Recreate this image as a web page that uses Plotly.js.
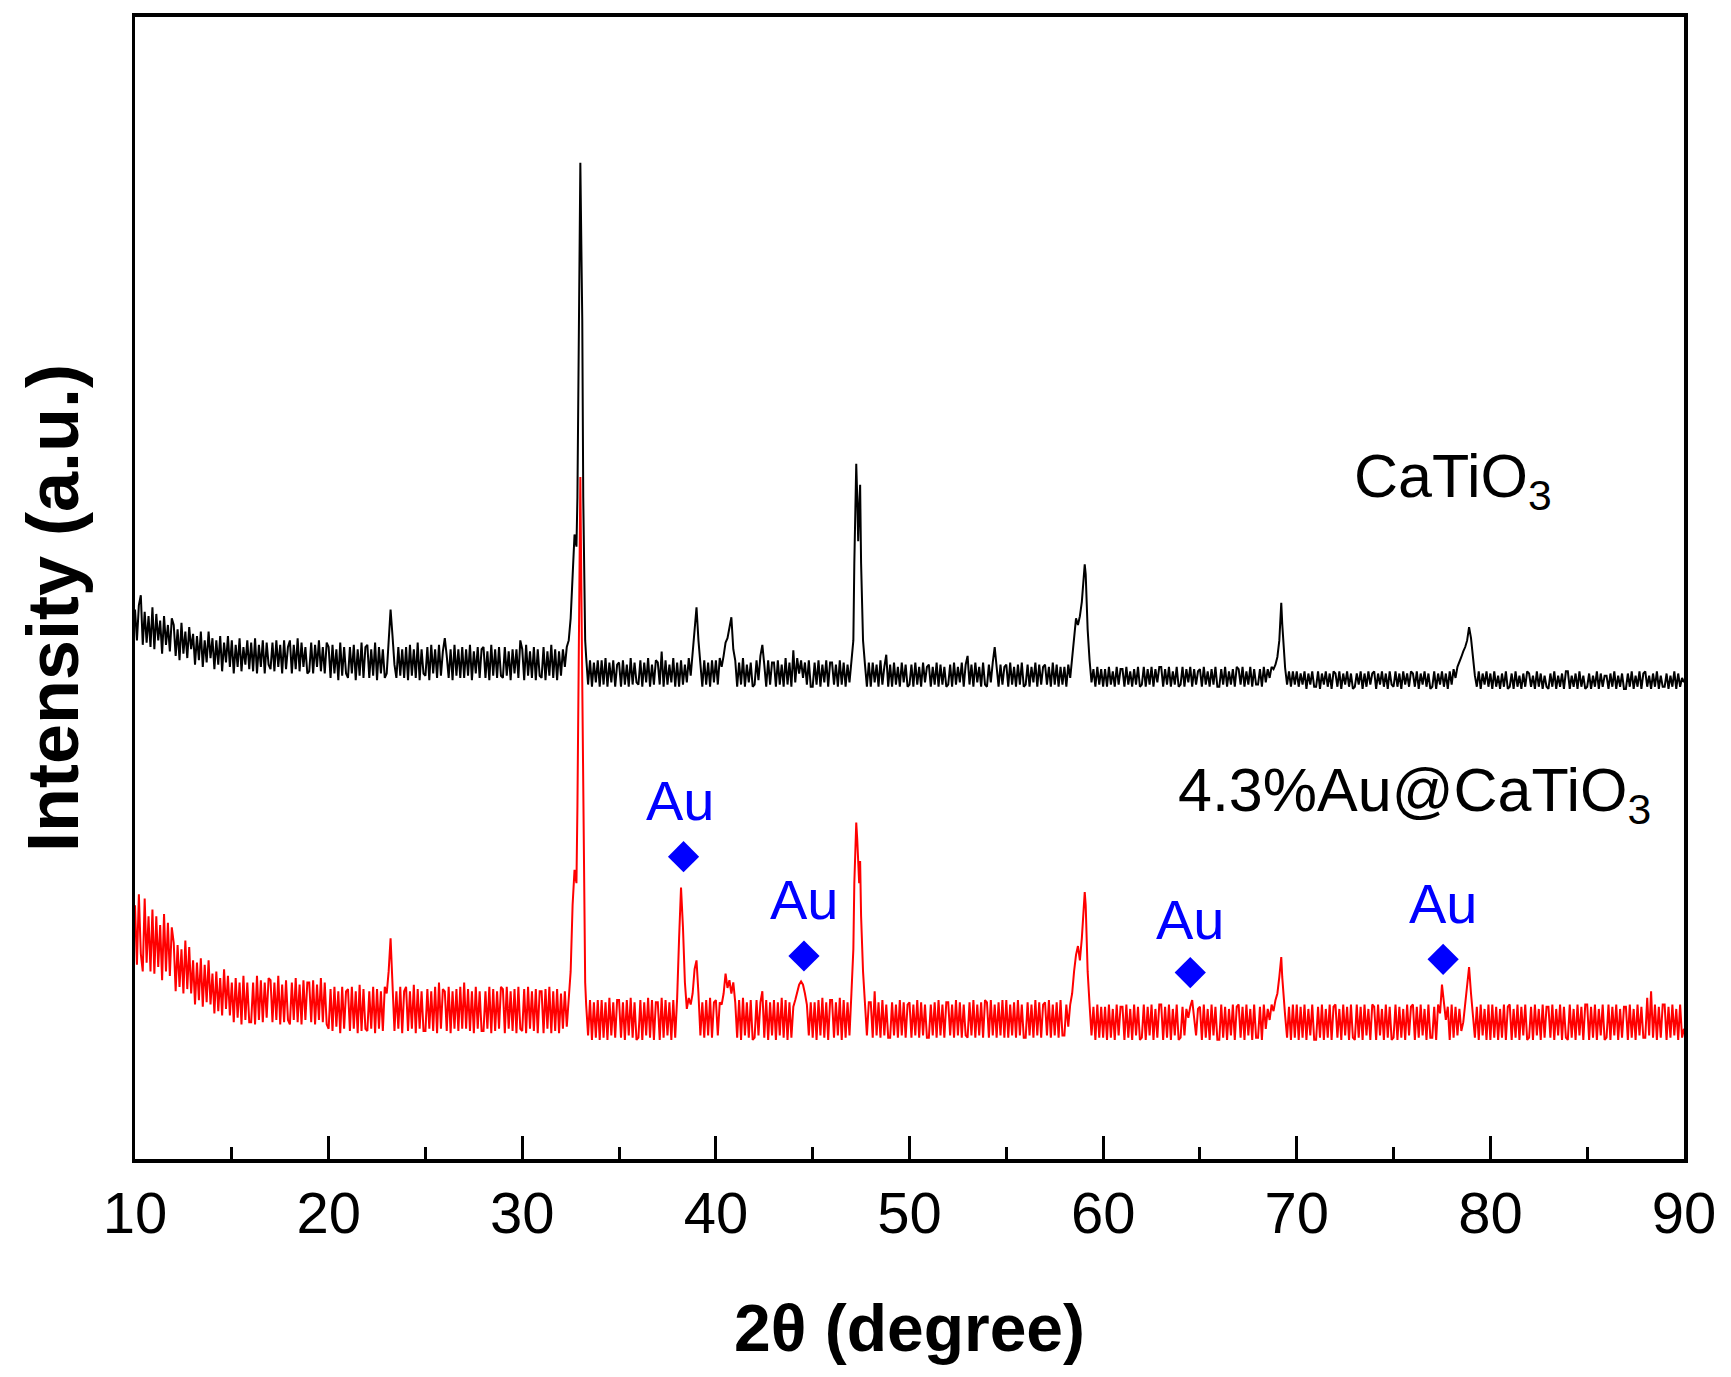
<!DOCTYPE html>
<html>
<head>
<meta charset="utf-8">
<script src="https://cdn.plot.ly/plotly-3.0.1.min.js"></script>
<style>
  html, body { margin: 0; padding: 0; background: #ffffff; }
  #chart { width: 1731px; height: 1377px; }
</style>
</head>
<body>
<div id="chart"></div>
<script>
// 2-theta positions (degree)
const twoTheta = [
  10,10.1,10.2,10.3,10.4,10.5,10.6,10.7,10.8,10.9,
  11,11.1,11.2,11.3,11.4,11.5,11.6,11.7,11.8,11.9,
  12,12.1,12.2,12.3,12.4,12.5,12.6,12.7,12.8,12.9,
  13,13.1,13.2,13.3,13.4,13.5,13.6,13.7,13.8,13.9,
  14,14.1,14.2,14.3,14.4,14.5,14.6,14.7,14.8,14.9,
  15,15.1,15.2,15.3,15.4,15.5,15.6,15.7,15.8,15.9,
  16,16.1,16.2,16.3,16.4,16.5,16.6,16.7,16.8,16.9,
  17,17.1,17.2,17.3,17.4,17.5,17.6,17.7,17.8,17.9,
  18,18.1,18.2,18.3,18.4,18.5,18.6,18.7,18.8,18.9,
  19,19.1,19.2,19.3,19.4,19.5,19.6,19.7,19.8,19.9,
  20,20.1,20.2,20.3,20.4,20.5,20.6,20.7,20.8,20.9,
  21,21.1,21.2,21.3,21.4,21.5,21.6,21.7,21.8,21.9,
  22,22.1,22.2,22.3,22.4,22.5,22.6,22.7,22.8,22.9,
  23,23.1,23.2,23.3,23.4,23.5,23.6,23.7,23.8,23.9,
  24,24.1,24.2,24.3,24.4,24.5,24.6,24.7,24.8,24.9,
  25,25.1,25.2,25.3,25.4,25.5,25.6,25.7,25.8,25.9,
  26,26.1,26.2,26.3,26.4,26.5,26.6,26.7,26.8,26.9,
  27,27.1,27.2,27.3,27.4,27.5,27.6,27.7,27.8,27.9,
  28,28.1,28.2,28.3,28.4,28.5,28.6,28.7,28.8,28.9,
  29,29.1,29.2,29.3,29.4,29.5,29.6,29.7,29.8,29.9,
  30,30.1,30.2,30.3,30.4,30.5,30.6,30.7,30.8,30.9,
  31,31.1,31.2,31.3,31.4,31.5,31.6,31.7,31.8,31.9,
  32,32.1,32.2,32.3,32.4,32.5,32.6,32.7,32.75,32.8,32.85,32.9,32.95,
  33,33.05,33.1,33.15,33.2,33.25,33.3,33.4,33.5,33.6,33.7,33.8,33.9,
  34,34.1,34.2,34.3,34.4,34.5,34.6,34.7,34.8,34.9,
  35,35.1,35.2,35.3,35.4,35.5,35.6,35.7,35.8,35.9,
  36,36.1,36.2,36.3,36.4,36.5,36.6,36.7,36.8,36.9,
  37,37.1,37.2,37.3,37.4,37.5,37.6,37.7,37.8,37.9,
  38,38.1,38.2,38.3,38.4,38.5,38.6,38.7,38.8,38.9,
  39,39.1,39.2,39.3,39.4,39.5,39.6,39.7,39.8,39.9,
  40,40.1,40.2,40.3,40.4,40.5,40.6,40.7,40.8,40.9,
  41,41.1,41.2,41.3,41.4,41.5,41.6,41.7,41.8,41.9,
  42,42.1,42.2,42.3,42.4,42.5,42.6,42.7,42.8,42.9,
  43,43.1,43.2,43.3,43.4,43.5,43.6,43.7,43.8,43.9,
  44,44.1,44.2,44.3,44.4,44.5,44.6,44.7,44.8,44.9,
  45,45.1,45.2,45.3,45.4,45.5,45.6,45.7,45.8,45.9,
  46,46.1,46.2,46.3,46.4,46.5,46.6,46.7,46.8,46.9,
  47,47.1,47.15,47.2,47.25,47.3,47.35,47.4,47.45,47.5,47.6,47.7,47.8,47.9,
  48,48.1,48.2,48.3,48.4,48.5,48.6,48.7,48.8,48.9,
  49,49.1,49.2,49.3,49.4,49.5,49.6,49.7,49.8,49.9,
  50,50.1,50.2,50.3,50.4,50.5,50.6,50.7,50.8,50.9,
  51,51.1,51.2,51.3,51.4,51.5,51.6,51.7,51.8,51.9,
  52,52.1,52.2,52.3,52.4,52.5,52.6,52.7,52.8,52.9,
  53,53.1,53.2,53.3,53.4,53.5,53.6,53.7,53.8,53.9,
  54,54.1,54.2,54.3,54.4,54.5,54.6,54.7,54.8,54.9,
  55,55.1,55.2,55.3,55.4,55.5,55.6,55.7,55.8,55.9,
  56,56.1,56.2,56.3,56.4,56.5,56.6,56.7,56.8,56.9,
  57,57.1,57.2,57.3,57.4,57.5,57.6,57.7,57.8,57.9,
  58,58.1,58.2,58.3,58.4,58.5,58.6,58.7,58.8,58.9,
  59,59.05,59.1,59.15,59.2,59.3,59.4,59.5,59.6,59.7,59.8,59.9,
  60,60.1,60.2,60.3,60.4,60.5,60.6,60.7,60.8,60.9,
  61,61.1,61.2,61.3,61.4,61.5,61.6,61.7,61.8,61.9,
  62,62.1,62.2,62.3,62.4,62.5,62.6,62.7,62.8,62.9,
  63,63.1,63.2,63.3,63.4,63.5,63.6,63.7,63.8,63.9,
  64,64.1,64.2,64.3,64.4,64.5,64.6,64.7,64.8,64.9,
  65,65.1,65.2,65.3,65.4,65.5,65.6,65.7,65.8,65.9,
  66,66.1,66.2,66.3,66.4,66.5,66.6,66.7,66.8,66.9,
  67,67.1,67.2,67.3,67.4,67.5,67.6,67.7,67.8,67.9,
  68,68.1,68.2,68.3,68.4,68.5,68.6,68.7,68.8,68.9,
  69,69.1,69.15,69.2,69.25,69.3,69.4,69.5,69.6,69.7,69.8,69.9,
  70,70.1,70.2,70.3,70.4,70.5,70.6,70.7,70.8,70.9,
  71,71.1,71.2,71.3,71.4,71.5,71.6,71.7,71.8,71.9,
  72,72.1,72.2,72.3,72.4,72.5,72.6,72.7,72.8,72.9,
  73,73.1,73.2,73.3,73.4,73.5,73.6,73.7,73.8,73.9,
  74,74.1,74.2,74.3,74.4,74.5,74.6,74.7,74.8,74.9,
  75,75.1,75.2,75.3,75.4,75.5,75.6,75.7,75.8,75.9,
  76,76.1,76.2,76.3,76.4,76.5,76.6,76.7,76.8,76.9,
  77,77.1,77.2,77.3,77.4,77.5,77.6,77.7,77.8,77.9,
  78,78.1,78.2,78.3,78.4,78.5,78.6,78.7,78.8,78.9,
  79,79.1,79.2,79.3,79.4,79.5,79.6,79.7,79.8,79.9,
  80,80.1,80.2,80.3,80.4,80.5,80.6,80.7,80.8,80.9,
  81,81.1,81.2,81.3,81.4,81.5,81.6,81.7,81.8,81.9,
  82,82.1,82.2,82.3,82.4,82.5,82.6,82.7,82.8,82.9,
  83,83.1,83.2,83.3,83.4,83.5,83.6,83.7,83.8,83.9,
  84,84.1,84.2,84.3,84.4,84.5,84.6,84.7,84.8,84.9,
  85,85.1,85.2,85.3,85.4,85.5,85.6,85.7,85.8,85.9,
  86,86.1,86.2,86.3,86.4,86.5,86.6,86.7,86.8,86.9,
  87,87.1,87.2,87.3,87.4,87.5,87.6,87.7,87.8,87.9,
  88,88.1,88.2,88.3,88.4,88.5,88.6,88.7,88.8,88.9,
  89,89.1,89.2,89.3,89.4,89.5,89.6,89.7,89.8,89.9,
  90
];

// CaTiO3 intensity (a.u., offset trace)
const intensityCaTiO3 = [
  498,470,502,511,466,496,468,492,464,500,
  462,494,470,488,458,492,466,484,460,490,
  484,456,480,452,486,458,478,454,482,462,
  476,448,474,452,478,446,470,450,478,454,
  472,444,470,448,474,442,468,450,474,446,
  470,440,466,446,472,442,464,448,470,444,
  468,442,472,440,466,446,470,440,468,448,
  444,468,442,470,446,466,440,470,444,464,
  470,440,466,444,472,442,468,446,464,440,
  442,468,440,466,446,470,442,464,440,468,
  464,436,466,440,462,434,468,438,464,440,
  436,464,440,466,434,462,438,468,436,464,
  466,436,462,438,468,434,464,440,462,436,
  440,470,498,474,448,436,464,438,462,436,
  464,434,466,438,462,436,468,434,462,440,
  438,464,434,466,440,462,436,466,438,460,
  472,456,436,462,434,466,438,462,436,464,
  436,462,438,466,434,460,440,464,436,462,
  464,436,460,434,466,438,462,436,464,438,
  436,464,438,460,434,462,440,462,436,470,
  462,434,466,438,460,436,464,434,462,438,
  436,464,434,460,438,466,436,462,434,460,
  438,462,446,464,470,490,530,566,560,555,600,720,850,
  903,830,760,600,500,470,455,430,452,428,450,432,452,
  428,452,430,454,428,450,432,452,428,448,
  450,428,452,430,448,428,454,430,450,432,
  430,452,428,450,432,454,428,448,430,452,
  450,430,460,428,452,430,448,432,454,428,
  450,428,452,430,448,432,454,438,458,478,
  500,470,448,428,452,430,450,428,452,432,
  452,430,454,446,456,468,472,480,491,462,
  452,428,450,430,454,428,448,432,450,428,
  430,452,434,456,466,448,428,452,430,450,
  450,428,452,430,448,428,454,430,450,428,
  461,432,454,440,452,436,450,430,452,428,
  428,450,430,452,428,448,432,452,428,450,
  450,430,448,428,452,430,450,428,448,432,
  450,470,540,610,630,600,560,590,611,540,470,448,428,450,
  428,450,432,448,428,452,430,446,457,428,
  448,428,450,430,446,428,450,432,448,428,
  430,448,428,450,430,446,428,450,432,446,
  448,428,446,430,450,428,448,430,446,428,
  430,448,428,450,430,446,432,450,428,448,
  456,430,448,428,450,432,446,428,450,430,
  428,448,432,450,464,446,428,448,430,446,
  448,428,450,430,446,428,448,430,450,428,
  430,448,428,446,432,450,428,448,430,446,
  448,430,446,428,450,430,448,428,446,430,
  446,428,448,436,452,470,490,484,492,505,
  525,539,530,505,480,452,432,444,428,446,430,444,
  428,444,428,446,430,442,428,446,430,444,
  444,428,446,430,442,428,444,430,446,428,
  430,446,428,444,430,446,428,444,432,446,
  446,428,444,430,446,428,442,430,446,428,
  430,446,428,444,432,446,428,444,430,442,
  444,428,446,430,442,428,444,430,446,428,
  428,444,430,446,428,442,430,444,428,446,
  444,430,446,428,442,430,446,428,444,430,
  430,444,428,446,432,444,436,446,444,448,
  455,470,492,504,485,470,445,430,442,428,442,430,
  442,428,440,430,442,426,440,430,442,428,
  428,442,426,440,430,442,428,440,426,442,
  440,428,442,426,440,430,442,428,440,426,
  428,440,430,442,426,440,428,442,430,440,
  442,426,440,430,442,428,440,426,442,430,
  428,442,428,440,426,442,430,440,428,442,
  440,428,442,426,440,430,442,428,440,426,
  428,442,426,440,430,442,428,440,426,442,
  430,444,436,446,450,455,460,464,470,482,
  472,452,438,428,442,426,440,430,442,428,
  440,426,442,428,438,426,440,428,442,426,
  428,440,426,442,428,438,426,440,428,442,
  440,428,438,426,442,428,440,426,438,428,
  426,440,428,442,426,438,428,440,426,442,
  442,426,438,428,440,426,442,428,438,426,
  428,440,426,438,428,442,426,440,428,438,
  438,426,440,428,442,426,438,428,440,426,
  426,440,428,442,426,438,428,442,426,440,
  442,428,438,426,440,428,442,426,438,428,
  428,440,426,438,428,442,426,440,428,436,
  432
];

// 4.3%Au@CaTiO3 intensity (a.u.)
const intensityAuCaTiO3 = [
  230,176,240,186,170,236,178,220,170,226,
  168,220,174,212,162,222,170,214,166,210,
  196,152,194,156,190,150,198,154,192,150,
  180,140,178,144,182,138,176,142,180,140,
  168,132,170,134,164,130,172,136,166,130,
  160,124,164,128,160,122,166,126,160,124,
  124,160,122,166,126,162,124,160,128,164,
  162,124,160,126,166,122,158,124,162,126,
  122,160,126,164,124,158,122,162,126,160,
  160,124,162,122,158,126,164,124,160,122,
  118,154,116,156,120,152,114,156,118,152,
  154,116,156,118,152,114,158,116,154,118,
  116,152,118,156,114,154,118,152,116,156,
  150,170,200,150,116,152,118,156,114,152,
  156,116,152,118,158,114,154,118,152,116,
  116,154,118,152,116,156,114,160,118,154,
  152,116,156,114,152,118,154,116,156,118,
  160,118,154,116,152,114,156,118,152,116,
  116,152,118,156,114,154,116,152,118,156,
  154,114,156,118,152,116,154,114,156,118,
  116,154,114,156,118,152,116,154,114,152,
  152,114,154,118,156,114,152,116,154,114,
  150,118,152,120,150,170,230,262,255,250,320,420,540,
  618,520,420,300,200,160,140,112,144,108,142,110,144,
  108,144,110,142,108,146,112,142,110,144,
  144,110,142,108,144,112,146,110,142,108,
  110,144,108,142,112,146,110,144,108,142,
  142,108,146,110,144,112,142,108,144,110,
  146,200,246,210,160,136,146,140,150,172,
  180,150,112,142,110,144,112,146,110,142,
  144,112,142,140,150,168,155,162,150,160,
  142,110,144,108,146,112,142,110,144,108,
  110,144,112,142,152,110,144,108,142,112,
  144,108,142,112,146,110,144,108,142,110,
  138,144,150,158,161,158,150,140,112,142,
  110,142,108,144,112,146,110,142,108,144,
  144,110,142,112,146,108,144,110,142,112,
  150,190,250,290,305,290,260,250,270,220,170,140,112,142,
  142,110,152,112,142,110,144,112,140,110,
  110,142,112,140,110,144,112,142,110,140,
  142,110,140,112,144,110,142,112,140,110,
  110,140,112,142,110,144,112,140,110,142,
  142,112,140,110,144,112,142,110,140,112,
  110,142,112,144,110,140,112,142,110,144,
  142,110,144,112,140,110,142,112,144,110,
  144,110,140,112,142,110,144,112,140,110,
  110,142,112,140,110,144,112,142,110,140,
  142,112,144,110,140,112,142,110,144,112,
  112,140,120,140,150,170,185,193,180,200,
  225,242,230,200,170,140,112,138,108,140,110,138,
  110,138,108,140,110,136,108,140,112,138,
  138,108,140,110,136,108,140,112,138,108,
  110,140,108,138,112,140,108,136,110,140,
  140,108,138,110,140,108,136,112,140,108,
  110,138,112,136,128,138,144,128,112,136,
  138,108,140,110,136,108,140,112,138,108,
  108,140,110,138,108,136,112,140,108,138,
  140,110,138,108,140,112,136,108,140,110,
  110,138,108,140,118,136,126,140,134,144,
  150,165,176,183,165,150,130,110,138,108,140,110,
  140,108,138,110,140,108,136,112,140,108,
  108,138,110,140,108,136,110,140,108,138,
  140,110,136,108,140,112,138,108,140,110,
  108,140,110,138,108,140,112,136,108,140,
  138,108,140,112,136,108,140,110,138,108,
  110,140,108,138,110,136,108,140,112,138,
  140,108,138,110,140,112,136,108,140,110,
  110,138,108,140,132,158,140,126,138,108,
  140,110,138,112,136,116,124,140,156,174,
  150,128,110,138,108,140,112,136,108,140,
  108,140,110,138,108,136,110,140,108,138,
  140,108,136,110,140,108,138,112,140,108,
  110,138,108,140,112,136,108,140,110,138,
  138,110,140,108,136,112,140,108,138,110,
  108,140,110,136,108,140,112,138,108,140,
  140,108,138,110,140,108,136,112,140,108,
  110,140,108,138,112,140,108,136,110,138,
  138,108,140,110,136,108,140,112,138,110,
  110,146,112,152,110,140,108,138,110,140,
  140,108,138,110,140,112,136,108,140,110,
  118
];

// Au reflection markers and their labels
const auMarkX = [38.33, 44.55, 64.5, 77.56];
const auMarkY = [274, 184, 169, 181];
const auLabelX = [38.16, 44.6, 64.5, 77.6];
const auLabelY = [325, 235, 217, 232];
const auLabelText = ["Au", "Au", "Au", "Au"];

// sample labels
const sampleLabels = ["CaTiO<sub>3</sub>", "4.3%Au@CaTiO<sub>3</sub>"];
const sampleLabelX = [72.85, 63.75];
const sampleLabelY = [615, 330];

const xTickVals = [10, 20, 30, 40, 50, 60, 70, 80, 90];

const FONT = "Liberation Sans, Arial, Helvetica, sans-serif";

const traces = [
  {
    x: twoTheta, y: intensityCaTiO3, type: "scatter", mode: "lines",
    name: "CaTiO3", line: {color: "#000000", width: 2}, hoverinfo: "x+y"
  },
  {
    x: twoTheta, y: intensityAuCaTiO3, type: "scatter", mode: "lines",
    name: "4.3%Au@CaTiO3", line: {color: "#ff0000", width: 2}, hoverinfo: "x+y"
  },
  {
    x: auMarkX, y: auMarkY, type: "scatter", mode: "markers",
    name: "Au", marker: {symbol: "diamond", size: 24, color: "#0000ff"}
  }
];

const annotations = [];
for (let i = 0; i < auLabelX.length; i++) {
  annotations.push({
    x: auLabelX[i], y: auLabelY[i], xref: "x", yref: "y",
    text: auLabelText[i], showarrow: false,
    xanchor: "center", yanchor: "middle",
    font: {family: FONT, size: 56, color: "#0000ff"}
  });
}
for (let i = 0; i < sampleLabels.length; i++) {
  annotations.push({
    x: sampleLabelX[i], y: sampleLabelY[i], xref: "x", yref: "y",
    text: sampleLabels[i], showarrow: false,
    xanchor: "left", yanchor: "middle",
    font: {family: FONT, size: 61, color: "#000000"}
  });
}

const layout = {
  width: 1731, height: 1377,
  paper_bgcolor: "#ffffff", plot_bgcolor: "#ffffff",
  showlegend: false,
  margin: {l: 135, r: 47, t: 17, b: 218, pad: 0},
  font: {family: FONT, color: "#000000"},
  xaxis: {
    range: [10, 90], tickvals: xTickVals, ticktext: xTickVals.map(String),
    ticks: "inside", ticklen: 23, tickwidth: 3, tickcolor: "#000000",
    minor: {dtick: 5, tick0: 10, ticks: "inside", ticklen: 12, tickwidth: 3, tickcolor: "#000000", showgrid: false},
    showline: true, linewidth: 4, linecolor: "#000000", mirror: true,
    showgrid: false, zeroline: false,
    tickfont: {family: FONT, size: 58, color: "#000000"},
    ticklabelstandoff: 0,
    title: {text: "<b>2θ (degree)</b>", standoff: 62, font: {family: FONT, size: 66, color: "#000000"}}
  },
  yaxis: {
    range: [0, 1035], showticklabels: false, ticks: "",
    showline: true, linewidth: 3.5, linecolor: "#000000", mirror: true,
    showgrid: false, zeroline: false,
    title: {text: "<b>Intensity (a.u.)</b>&nbsp;&nbsp;", standoff: 30, font: {family: FONT, size: 72, color: "#000000"}}
  },
  annotations: annotations
};

Plotly.newPlot("chart", traces, layout, {displayModeBar: false, staticPlot: true});
</script>
</body>
</html>
